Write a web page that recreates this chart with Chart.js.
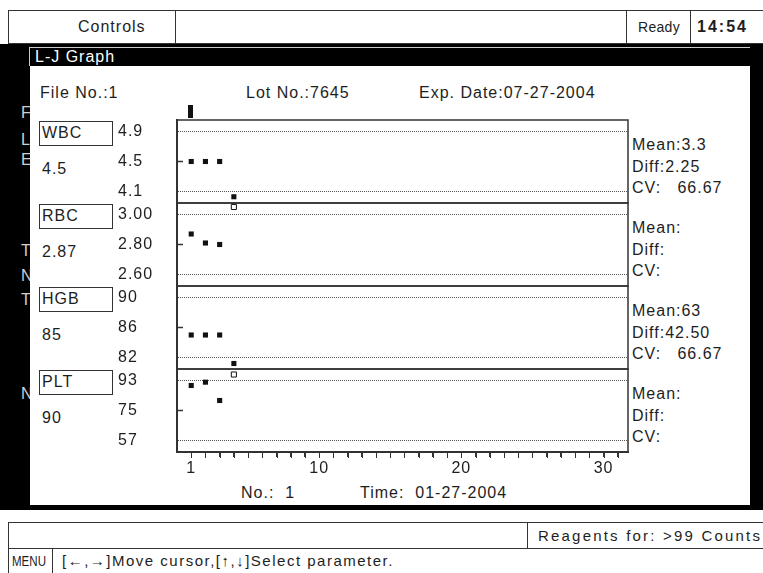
<!DOCTYPE html>
<html>
<head>
<meta charset="utf-8">
<title>L-J Graph</title>
<script src="https://cdn.jsdelivr.net/npm/chart.js@4.4.1/dist/chart.umd.min.js"></script>
<style>
  html, body { margin: 0; padding: 0; }
  body {
    position: relative; width: 763px; height: 573px; overflow: hidden; background: #fff;
    font-family: "Liberation Sans", Arial, sans-serif; font-size: 16px; letter-spacing: 1px; color: #1e1e1e;
  }
  .t { position: absolute; white-space: pre; line-height: 20px; height: 20px; }
  .frame { position: absolute; box-sizing: border-box; border: 1px solid #333; }
  .vl { position: absolute; width: 1px; background: #333; }
  .ghost { position: absolute; left: 21px; color: #d0d0d0; line-height: 20px; }
  .small { font-size: 15px; letter-spacing: 1.5px; }
  #lj { position: absolute; left: 0; top: 0; }
</style>
</head>
<body>
  <!-- status bar -->
  <div class="frame" style="left:8px;top:10px;width:756px;height:34px"></div>
  <div class="vl" style="left:175px;top:10px;height:34px"></div>
  <div class="vl" style="left:626px;top:10px;height:34px"></div>
  <div class="vl" style="left:690px;top:10px;height:34px"></div>
  <div class="t" style="left:78px;top:17px">Controls</div>
  <div class="t" style="left:638px;top:17px;font-size:14px;letter-spacing:0.3px">Ready</div>
  <div class="t" style="left:697px;top:17px;font-weight:bold;letter-spacing:2px">14:54</div>

  <!-- dark window with the half hidden menu behind it -->
  <div style="position:absolute;left:0;top:44px;width:763px;height:466px;background:#000"></div>
  <div class="ghost" style="top:103px">F</div>
  <div class="ghost" style="top:130px">L</div>
  <div class="ghost" style="top:150px">E</div>
  <div class="ghost" style="top:241px">T</div>
  <div class="ghost" style="top:266px">N</div>
  <div class="ghost" style="top:290px">T</div>
  <div class="ghost" style="top:384px">N</div>

  <div style="position:absolute;left:29px;top:47px;width:721px;height:19px;box-sizing:border-box;background:#000;border-left:1px solid #ccc;border-top:1px solid #ccc"></div>
  <div class="t" style="left:35px;top:47px;color:#fff">L-J Graph</div>
  <div style="position:absolute;left:30px;top:66px;width:720px;height:439px;background:#fff"></div>

  <div class="t" style="left:40px;top:83px">File No.:1</div>
  <div class="t" style="left:246px;top:83px">Lot No.:7645</div>
  <div class="t" style="left:419px;top:83px">Exp. Date:07-27-2004</div>
  <div class="t" style="left:241px;top:483px">No.:  1</div>
  <div class="t" style="left:360px;top:483px">Time:  01-27-2004</div>

  <div id="side"></div>

  <!-- bottom bars -->
  <div class="frame" style="left:8px;top:522px;width:756px;height:27px"></div>
  <div class="vl" style="left:527px;top:522px;height:27px"></div>
  <div class="t small" style="left:538px;top:526px;letter-spacing:2.2px">Reagents for: &gt;99 Counts</div>
  <div class="frame" style="left:8px;top:548px;width:756px;height:26px"></div>
  <div class="vl" style="left:52px;top:548px;height:25px"></div>
  <div class="t" style="left:12px;top:551px;font-size:15px;letter-spacing:0;transform:scaleX(0.77);transform-origin:0 0">MENU</div>
  <div class="t small" style="left:62px;top:551px">[←,→]Move cursor,[↑,↓]Select parameter.</div>

  <canvas id="lj" width="763" height="573"></canvas>

<script>
// ----- data -----
const runs = [1, 2, 3, 4];
const xLabels = [1, 10, 20, 30];
const params = ['WBC', 'RBC', 'HGB', 'PLT'];
const lowerLimits = [4.1, 2.60, 82, 57];
const targets = [4.5, 2.80, 86, 75];
const upperLimits = [4.9, 3.00, 90, 93];
const decimals = [1, 2, 0, 0];
const cursorRun = 1;
const cursorValues = ['4.5', '2.87', '85', '90'];
const meanText = ['3.3', '', '63', ''];
const diffText = ['2.25', '', '42.50', ''];
const cvText = ['66.67', '', '66.67', ''];

const wbcValues = [4.5, 4.5, 4.5, 4.03];
const rbcValues = [2.87, 2.81, 2.80, 3.05];
const hgbValues = [85, 85, 85, 81.2];
const pltValues = [90, 92, 81, 96.6];
// run flagged above the upper limit -> hollow marker
const wbcHigh = [false, false, false, false];
const rbcHigh = [false, false, false, true];
const hgbHigh = [false, false, false, false];
const pltHigh = [false, false, false, true];

const series = [wbcValues, rbcValues, hgbValues, pltValues];
const highFlags = [wbcHigh, rbcHigh, hgbHigh, pltHigh];
const axisIds = ['yWBC', 'yRBC', 'yHGB', 'yPLT'];

// ----- side panels (labels, cursor values, statistics) -----
const panelTop = 120, panelStep = 83;
const side = document.getElementById('side');
function addText(txt, x, cy) {
  const d = document.createElement('div');
  d.className = 't';
  d.style.left = x + 'px';
  d.style.top = (cy - 10) + 'px';
  d.textContent = txt;
  side.appendChild(d);
}
params.forEach((p, i) => {
  const top = panelTop + panelStep * i;
  const b = document.createElement('div');
  b.className = 'frame';
  Object.assign(b.style, { left: '39px', top: (top + 1) + 'px', width: '74px', height: '25px' });
  side.appendChild(b);
  addText(p, 42, top + 13);
  addText(cursorValues[i], 42, top + 48.5);
  addText('Mean:' + meanText[i], 632, top + 25);
  addText('Diff:' + diffText[i], 632, top + 47);
  addText('CV:' + (cvText[i] ? '   ' + cvText[i] : ''), 632, top + 68);
});

// ----- chart -----
Chart.defaults.font.family = '"Liberation Sans", Arial, sans-serif';
Chart.defaults.font.size = 16;
Chart.defaults.color = '#1e1e1e';

const datasets = series.map((vals, i) => ({
  label: params[i],
  data: vals.map((v, j) => ({ x: runs[j], y: v })),
  yAxisID: axisIds[i],
  showLine: false,
  pointStyle: 'rect',
  pointRadius: 3.6,
  pointHoverRadius: 3.6,
  pointBackgroundColor: highFlags[i].map(h => h ? '#fff' : '#111'),
  pointBorderColor: '#111',
  pointBorderWidth: highFlags[i].map(h => h ? 1 : 0)
}));

const scales = {
  x: {
    type: 'linear',
    min: 0,
    max: 31.72,
    afterBuildTicks: s => {
      s.ticks = [];
      for (let r = 1; r <= 31; r++) s.ticks.push({ value: r });
    },
    afterFit: s => { s.height = 24; },
    ticks: {
      autoSkip: false, maxRotation: 0, padding: 2,
      callback: v => xLabels.includes(v) ? String(v) : ''
    },
    grid: { drawOnChartArea: false, drawTicks: true, tickLength: 5, tickColor: '#333', tickWidth: 1 },
    border: { display: true, color: '#333', width: 2 }
  }
};

params.forEach((p, i) => {
  const span = upperLimits[i] - lowerLimits[i];
  const pad = span * 11.5 / 60;
  scales[axisIds[i]] = {
    type: 'linear',
    position: 'left',
    stack: 'lj',
    stackWeight: 1,
    weight: params.length - i,
    min: lowerLimits[i] - pad,
    max: upperLimits[i] + pad,
    afterBuildTicks: s => {
      s.ticks = [lowerLimits[i], targets[i], upperLimits[i]].map(v => ({ value: v }));
    },
    afterFit: s => { s.width = 59; },
    ticks: {
      autoSkip: false, crossAlign: 'far', padding: 0,
      callback: v => Number(v).toFixed(decimals[i])
    },
    grid: {
      drawTicks: false,
      lineWidth: 1,
      color: c => (c.tick && c.tick.value === targets[i]) ? 'rgba(0,0,0,0)' : '#555'
    },
    border: { display: true, color: '#333', width: 2, dash: [1, 1] }
  };
});

const ljFrame = {
  id: 'ljFrame',
  beforeDraw(chart) {
    chart.ctx.letterSpacing = '1px';
  },
  beforeDatasetsDraw(chart) {
    const { ctx, chartArea } = chart;
    ctx.save();
    ctx.strokeStyle = '#333';
    ctx.lineWidth = 1.5;
    axisIds.forEach((id, i) => {
      const s = chart.scales[id];
      ctx.strokeRect(chartArea.left, s.top, chartArea.right - chartArea.left, s.bottom - s.top);
      // short mark at the target value
      const y = s.getPixelForValue(targets[i]);
      ctx.beginPath();
      ctx.moveTo(chartArea.left, y);
      ctx.lineTo(chartArea.left + 6, y);
      ctx.stroke();
    });
    // run ticks under the plot
    const xs = chart.scales.x;
    ctx.lineWidth = 1;
    ctx.beginPath();
    xs.ticks.forEach(t => {
      const x = Math.round(xs.getPixelForValue(t.value)) + 0.5;
      ctx.moveTo(x, chartArea.bottom);
      ctx.lineTo(x, chartArea.bottom + 6);
    });
    ctx.stroke();
    ctx.restore();
  },
  afterDraw(chart) {
    // cursor above the plot
    const { ctx, chartArea } = chart;
    const x = chart.scales.x.getPixelForValue(cursorRun);
    ctx.save();
    ctx.fillStyle = '#111';
    ctx.fillRect(Math.round(x) - 3, chartArea.top - 15, 5, 13);
    ctx.restore();
  }
};

new Chart(document.getElementById('lj').getContext('2d'), {
  type: 'scatter',
  data: { datasets },
  options: {
    responsive: false,
    animation: false,
    devicePixelRatio: 1,
    layout: { padding: { left: 118, top: 120, right: 135, bottom: 97 } },
    plugins: { legend: { display: false }, tooltip: { enabled: false } },
    scales
  },
  plugins: [ljFrame]
});
</script>
</body>
</html>
